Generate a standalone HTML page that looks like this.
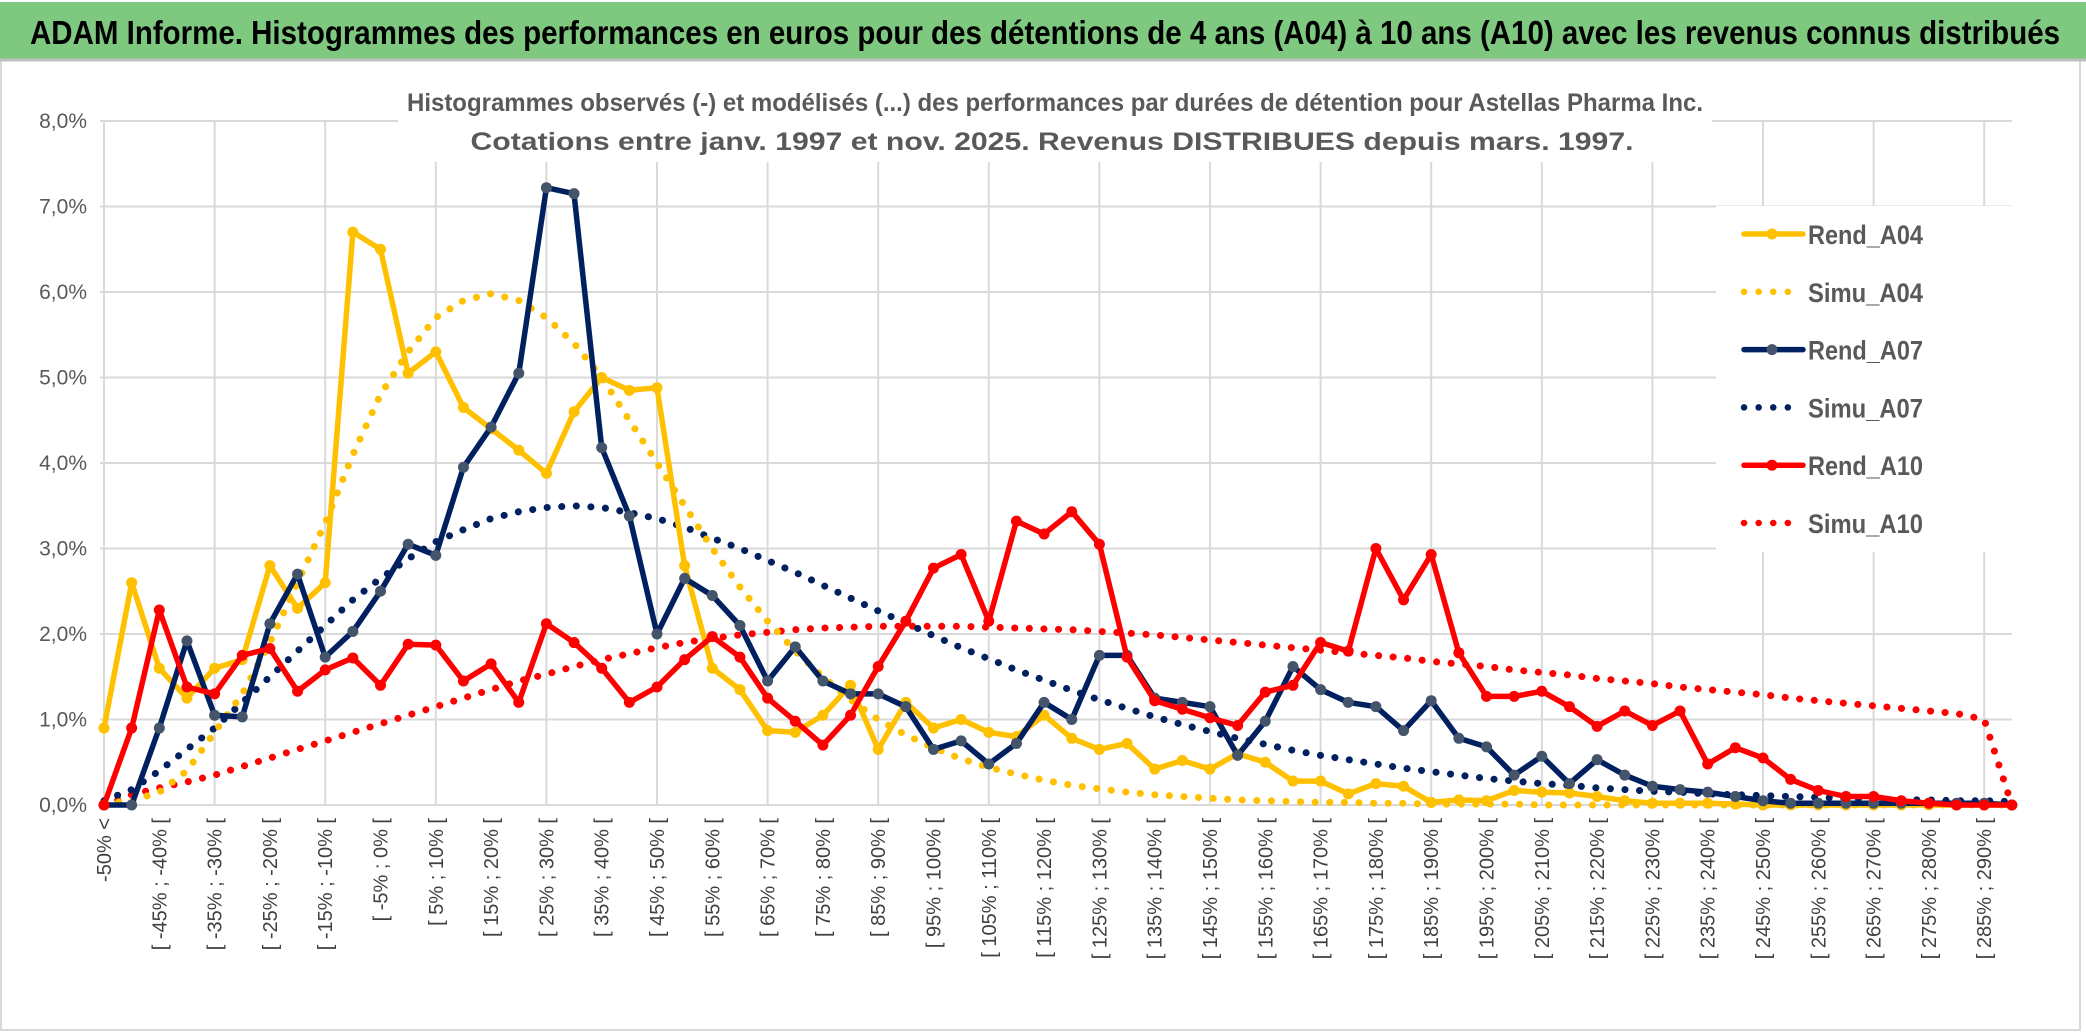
<!DOCTYPE html>
<html><head><meta charset="utf-8"><style>
html,body{margin:0;padding:0;background:#fff;}
svg{display:block;}
text{font-family:"Liberation Sans",sans-serif;}
</style></head><body>
<svg id="chart" width="2086" height="1033" viewBox="0 0 2086 1033" xmlns="http://www.w3.org/2000/svg">
  <rect x="0" y="0" width="2086" height="1033" fill="#fff"/>
  <rect x="1" y="60" width="2079" height="970" fill="none" stroke="#d9d9d9" stroke-width="2"/>
  <rect x="0" y="2" width="2086" height="58" fill="#7ec87f"/>
  <line x1="0" y1="60" x2="2086" y2="60" stroke="#bfbfbf" stroke-width="3"/>
  <text x="30" y="44" font-size="33" font-weight="bold" fill="#000" textLength="2030" lengthAdjust="spacingAndGlyphs">ADAM Informe. Histogrammes des performances en euros pour des détentions de 4 ans (A04) à 10 ans (A10) avec les revenus connus distribués</text>
  <g id="grid"></g>
  <rect x="398" y="64" width="1314" height="98" fill="#fff"/>
  <text x="1055" y="111" font-size="25" font-weight="bold" fill="#595959" text-anchor="middle" textLength="1296" lengthAdjust="spacingAndGlyphs">Histogrammes observés (-) et modélisés (...) des performances par durées de détention pour Astellas Pharma Inc.</text>
  <text x="1052" y="150" font-size="25" font-weight="bold" fill="#595959" text-anchor="middle" textLength="1163" lengthAdjust="spacingAndGlyphs">Cotations entre janv. 1997 et nov. 2025. Revenus DISTRIBUES depuis mars. 1997.</text>
  <g id="yaxis"></g>
  <g id="xaxis"></g>
  <g id="series"></g>
  <g id="legend"></g>
</svg>
<script>
const categoriesCount = 70;
const yTicks = [0,1,2,3,4,5,6,7,8];
const rendA04 = [0.9,2.6,1.6,1.25,1.6,1.7,2.8,2.3,2.6,6.7,6.5,5.05,5.3,4.65,4.4,4.15,3.88,4.6,5.0,4.85,4.88,2.8,1.6,1.35,0.87,0.85,1.05,1.4,0.65,1.2,0.9,1.0,0.85,0.8,1.05,0.78,0.65,0.72,0.42,0.52,0.42,0.6,0.5,0.28,0.28,0.13,0.25,0.22,0.03,0.06,0.05,0.17,0.15,0.14,0.1,0.05,0.02,0.02,0.02,0.01,0,0,0,0,0,0,0,0,0,0];
const rendA07 = [0,0,0.9,1.92,1.05,1.03,2.12,2.7,1.73,2.03,2.5,3.05,2.92,3.95,4.42,5.05,7.22,7.15,4.18,3.38,2.0,2.65,2.45,2.1,1.45,1.85,1.45,1.3,1.3,1.15,0.65,0.75,0.48,0.72,1.2,1.0,1.75,1.75,1.25,1.2,1.15,0.58,0.98,1.62,1.35,1.2,1.15,0.87,1.22,0.78,0.68,0.35,0.57,0.25,0.53,0.35,0.22,0.18,0.15,0.1,0.05,0.02,0.02,0.02,0.02,0.02,0.02,0.02,0.02,0];
const rendA10 = [0,0.9,2.28,1.38,1.3,1.75,1.83,1.33,1.58,1.72,1.4,1.88,1.87,1.45,1.65,1.2,2.12,1.9,1.6,1.2,1.38,1.7,1.97,1.73,1.25,0.98,0.7,1.05,1.62,2.15,2.77,2.93,2.15,3.32,3.17,3.43,3.05,1.73,1.22,1.12,1.02,0.93,1.32,1.4,1.9,1.8,3.0,2.4,2.93,1.78,1.27,1.27,1.33,1.15,0.92,1.1,0.93,1.1,0.48,0.67,0.55,0.3,0.17,0.1,0.1,0.05,0.02,0,0,0];
const simuA04 = [0.02,0.05,0.15,0.4,0.85,1.3,1.9,2.6,3.3,4.1,4.8,5.3,5.7,5.9,5.98,5.9,5.7,5.4,5.0,4.5,4.0,3.5,3.0,2.55,2.15,1.8,1.5,1.23,1.0,0.82,0.67,0.54,0.44,0.36,0.29,0.23,0.19,0.15,0.12,0.1,0.08,0.06,0.05,0.04,0.03,0.03,0.02,0.02,0.01,0.01,0.01,0.01,0,0,0,0,0,0,0,0,0,0,0,0,0,0,0,0,0,0];
const simuA07 = [0.05,0.18,0.4,0.65,0.9,1.2,1.5,1.8,2.1,2.4,2.65,2.88,3.08,3.22,3.35,3.43,3.48,3.5,3.48,3.42,3.35,3.25,3.12,3.0,2.86,2.72,2.57,2.42,2.27,2.13,1.98,1.84,1.71,1.58,1.46,1.34,1.23,1.13,1.03,0.94,0.86,0.78,0.71,0.64,0.58,0.53,0.48,0.43,0.39,0.35,0.31,0.28,0.25,0.23,0.2,0.18,0.16,0.15,0.13,0.12,0.11,0.1,0.09,0.08,0.07,0.06,0.06,0.05,0.05,0.04];
const simuA10 = [0,0.12,0.2,0.27,0.35,0.45,0.55,0.65,0.75,0.85,0.95,1.05,1.15,1.25,1.35,1.45,1.53,1.62,1.7,1.77,1.84,1.9,1.95,1.99,2.02,2.05,2.07,2.08,2.09,2.09,2.09,2.09,2.08,2.07,2.06,2.05,2.03,2.01,1.99,1.96,1.93,1.9,1.87,1.84,1.81,1.78,1.75,1.72,1.68,1.65,1.62,1.58,1.55,1.52,1.48,1.45,1.42,1.38,1.35,1.32,1.29,1.25,1.22,1.19,1.16,1.13,1.1,1.07,1.0,0];
const legendNames = ["Rend_A04","Simu_A04","Rend_A07","Simu_A07","Rend_A10","Simu_A10"];

const NS = "http://www.w3.org/2000/svg";
const X0 = 104, DX = 27.65, Y0 = 805, DY = 85.5, PL = 100, PR = 2012;
function xs(i){ return X0 + i*DX; }
function ys(v){ return Y0 - v*DY; }
function mk(tag, attrs, parent){
  const e = document.createElementNS(NS, tag);
  for (const k in attrs) e.setAttribute(k, attrs[k]);
  parent.appendChild(e);
  return e;
}
function catLabel(i){
  if (i === 0) return "-50% <";
  const a = -50 + 5*(i-1);
  return "[ " + a + "% ; " + (a+5) + "% [";
}

const grid = document.getElementById('grid');
yTicks.forEach(t => {
  const l = mk('line', {x1:PL, x2:PR, y1:ys(t), y2:ys(t), stroke:'#d9d9d9', 'stroke-width':2}, grid);
  
  
});
for (let i = 0; i < categoriesCount; i += 4) {
  const l = mk('line', {x1:xs(i), x2:xs(i), y1:ys(8), y2:Y0, stroke:'#d9d9d9', 'stroke-width':2}, grid);
  
  
}

const yaxis = document.getElementById('yaxis');
yTicks.forEach(t => {
  const tx = mk('text', {x:87, y:ys(t)+7, 'font-size':21, fill:'#595959', 'text-anchor':'end'}, yaxis);
  tx.textContent = t.toFixed(1).replace('.', ',') + '%';
  
  
});

const xaxis = document.getElementById('xaxis');
for (let i = 0; i < categoriesCount; i += 2) {
  const x = xs(i) + 7, y = 818;
  const tx = mk('text', {x:x, y:y, 'font-size':20, fill:'#404040', 'text-anchor':'end', transform:'rotate(-90 '+x+' '+y+')'}, xaxis);
  tx.textContent = catLabel(i);
  
  
}

const series = document.getElementById('series');
function pts(arr){ return arr.map((v,i)=>xs(i).toFixed(1)+','+ys(v).toFixed(1)).join(' '); }
function dotted(arr, color, name){
  const p = mk('polyline', {points:pts(arr), fill:'none', stroke:color, 'stroke-width':7, 'stroke-linecap':'round', 'stroke-linejoin':'round', 'stroke-dasharray':'0.1 14.5'}, series);
  
  
}
function solid(arr, color, mcolor, name){
  const g = mk('g', {}, series);
  
  
  const p = mk('polyline', {points:pts(arr), fill:'none', stroke:color, 'stroke-width':5.5, 'stroke-linejoin':'round', 'stroke-linecap':'round'}, g);
  
  
  arr.forEach((v,i) => {
    const c = mk('circle', {cx:xs(i), cy:ys(v), r:5.5, fill:mcolor}, g);
    
    
  });
}
dotted(simuA10, '#ff0000', 'simu-a10-line');
dotted(simuA07, '#002060', 'simu-a07-line');
dotted(simuA04, '#ffc000', 'simu-a04-line');
solid(rendA04, '#ffc000', '#ffc000', 'rend-a04-series');
solid(rendA07, '#002060', '#44546a', 'rend-a07-series');
solid(rendA10, '#ff0000', '#ff0000', 'rend-a10-series');

const legend = document.getElementById('legend');
mk('rect', {x:1716, y:206, width:296, height:346, fill:'#fff'}, legend);
const legendStyles = [
  ['#ffc000','#ffc000',false],['#ffc000',null,true],
  ['#002060','#44546a',false],['#002060',null,true],
  ['#ff0000','#ff0000',false],['#ff0000',null,true]
];
legendNames.forEach((n, k) => {
  const y = 234 + k*57.8;
  const g = mk('g', {}, legend);
  
  
  const st = legendStyles[k];
  if (st[2]) {
    mk('line', {x1:1744, x2:1802, y1:y, y2:y, stroke:st[0], 'stroke-width':6.5, 'stroke-linecap':'round', 'stroke-dasharray':'0.1 14.5'}, g);
  } else {
    mk('line', {x1:1744, x2:1803, y1:y, y2:y, stroke:st[0], 'stroke-width':5.5, 'stroke-linecap':'round'}, g);
    mk('circle', {cx:1772, cy:y, r:5.5, fill:st[1]}, g);
  }
  const t = mk('text', {x:1808, y:y+10, 'font-size':27, 'font-weight':'bold', fill:'#595959', textLength:115, lengthAdjust:'spacingAndGlyphs'}, g);
  t.textContent = n;
});
</script>
</body></html>
